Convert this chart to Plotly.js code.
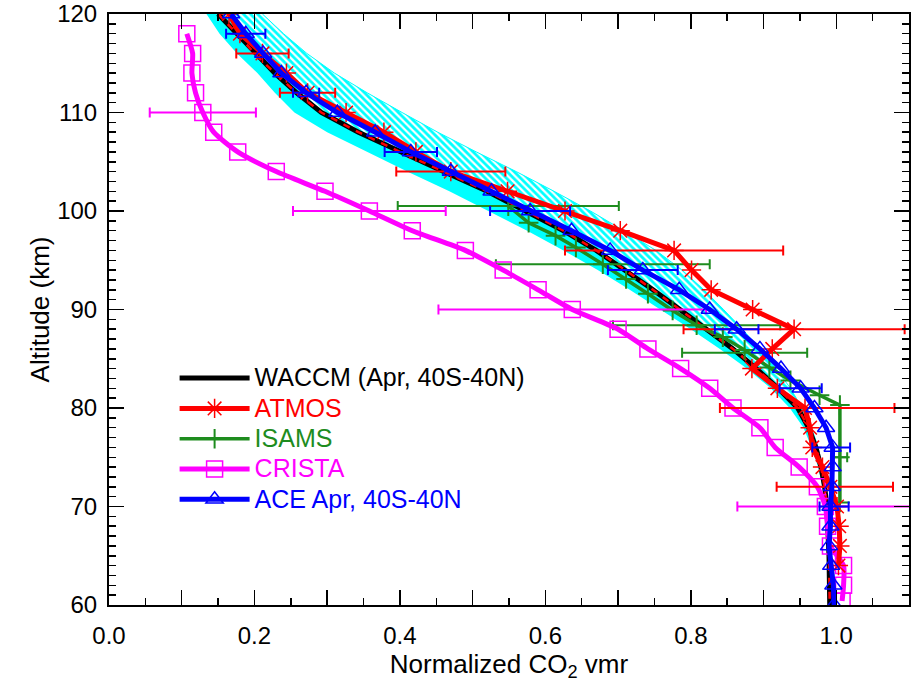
<!DOCTYPE html>
<html><head><meta charset="utf-8">
<script src="https://cdn.plot.ly/plotly-3.0.1.min.js"></script>
<style>body{margin:0;background:#fff}#chart{width:911px;height:682px}</style>
</head><body><div id="chart"></div>
<script>
// ---- WACCM profile and spread band ----
const waccmAlt = [120,118,116,114,112,110,108,106,104,102,100,98,96,94,92,90,88,86,84,82,80,78,76,74,72,70,65,60];
const waccmX   = [0.150,0.176,0.200,0.228,0.258,0.292,0.343,0.400,0.460,0.520,0.574,0.625,0.670,0.710,0.748,0.785,0.822,0.858,0.890,0.920,0.947,0.962,0.972,0.979,0.984,0.987,0.990,0.991];
const bandLeft = [0.134,0.152,0.176,0.204,0.228,0.255,0.300,0.355,0.410,0.468,0.522,0.575,0.625,0.672,0.716,0.758,0.800,0.840,0.877,0.910,0.936,0.955,0.966,0.975,0.981,0.985,0.988,0.989];
const bandRight= [0.211,0.240,0.272,0.310,0.355,0.403,0.452,0.505,0.560,0.612,0.662,0.708,0.752,0.788,0.818,0.845,0.871,0.895,0.917,0.937,0.953,0.966,0.975,0.981,0.986,0.989,0.991,0.992];

// ---- ATMOS ----
const atmosAlt = [120,118,116,114,112,110,108,106,104,102,100,98,96,94,92,90,88,86,84,82,80,78,76,74,72,70,68,66,64];
const atmosX   = [0.165,0.180,0.211,0.244,0.273,0.326,0.378,0.422,0.470,0.548,0.627,0.703,0.777,0.801,0.828,0.885,0.942,0.912,0.884,0.919,0.957,0.964,0.967,0.981,0.992,1.001,1.004,1.005,1.003];
const atmosErrAlt = [116,112,104,96,88,80,72];
const atmosErrX   = [0.211,0.273,0.470,0.777,0.942,0.960,0.998];
const atmosErr    = [0.036,0.038,0.075,0.150,0.152,0.120,0.080];

// ---- ISAMS ----
const isamsAlt = [100.5,98.8,97.5,96.3,94.6,93.1,91.6,89.9,88.4,87.2,85.9,84.1,82.8,81.3,80.3,75.0,70.4];
const isamsX   = [0.549,0.577,0.614,0.642,0.679,0.711,0.741,0.775,0.808,0.844,0.874,0.908,0.937,0.977,1.005,1.005,1.005];
const isamsErrAlt = [100.5,94.6,88.4,85.6,75.0];
const isamsErrX   = [0.549,0.679,0.808,0.874,1.005];
const isamsErr    = [0.152,0.147,0.115,0.086,0.010];

// ---- CRISTA ----
const cristaAlt = [118,116,114,112,110,108,106,104,102,100,98,96,94,92,90,88,86,84,82,80,78,76,74,72,70,68,66,64,62,60.4];
const cristaX   = [0.107,0.115,0.114,0.119,0.129,0.144,0.177,0.230,0.297,0.358,0.417,0.490,0.542,0.590,0.637,0.700,0.741,0.786,0.826,0.858,0.895,0.916,0.949,0.974,0.985,0.988,0.992,1.010,1.010,1.008];
const cristaErrAlt = [110,100,90,70];
const cristaErrX   = [0.129,0.358,0.637,0.985];
const cristaErr    = [0.073,0.105,0.184,0.121];

// ---- ACE ----
const aceAlt = [120,118,116,114,112,110,108,106,104,102,100,98,96,94,92,90,88,86,84,82,80,78,76,74,72,70,68,66,64,62,60];
const aceX   = [0.168,0.188,0.212,0.237,0.271,0.314,0.366,0.415,0.470,0.526,0.579,0.636,0.689,0.734,0.784,0.826,0.863,0.895,0.924,0.951,0.970,0.986,0.995,0.995,0.994,0.992,0.992,0.990,0.993,0.996,0.997];
const aceErrAlt = [118,112,106,100,94,88,82,76,70];
const aceErrX   = [0.188,0.271,0.415,0.579,0.734,0.863,0.951,0.993,0.997];
const aceErr    = [0.027,0.018,0.036,0.055,0.048,0.030,0.029,0.026,0.020];

// ---- Axis ticks ----
const xTickVals = [0,0.1,0.2,0.3,0.4,0.5,0.6,0.7,0.8,0.9,1.0,1.1];
const xTickText = ['0.0','','0.2','','0.4','','0.6','','0.8','','1.0',''];
const yTickVals = [60,70,80,90,100,110,120];

const RED='#ff0000', GREEN='#1e8c1e', MAG='#ff00ff', BLUE='#0000ff';
const rev = a => a.slice().reverse();
const lbl = (t, c) => '<span style="font-size:25px;fill:' + c + '">' + t + '</span>';

function errTrace(alt, x, err, color, thick, w){
  return {x:x, y:alt, type:'scatter', mode:'markers', showlegend:false, hoverinfo:'skip',
    marker:{size:2, color:'rgba(0,0,0,0)'},
    error_x:{type:'data', array:err, visible:true, color:color, thickness:thick, width:w}};
}

const traces = [
  // solid part of band
  {x: bandLeft.concat(rev(waccmX)), y: waccmAlt.concat(rev(waccmAlt)), type:'scatter', mode:'lines',
   fill:'toself', fillcolor:'#00ffff', line:{width:0, color:'#00ffff'}, showlegend:false, hoverinfo:'skip'},
  // hatched part of band
  {x: waccmX.concat(rev(bandRight)), y: waccmAlt.concat(rev(waccmAlt)), type:'scatter', mode:'lines',
   fill:'toself', fillcolor:'rgba(0,0,0,0)', line:{width:1, color:'#00ffff'}, showlegend:false, hoverinfo:'skip',
   fillpattern:{shape:'\\', fgcolor:'#00ffff', bgcolor:'rgba(255,255,255,0)', size:5, solidity:0.55}},
  // WACCM
  {x: waccmX, y: waccmAlt, type:'scatter', mode:'lines', name:lbl('WACCM (Apr, 40S-40N)', '#000000'), legendrank:1,
   line:{color:'#000000', width:5}},
  {x: waccmX, y: waccmAlt, type:'scatter', mode:'lines', showlegend:false, hoverinfo:'skip',
   line:{color:RED, width:2.5, dash:'7px,7px'}},
  // ISAMS
  errTrace(isamsErrAlt, isamsErrX, isamsErr, GREEN, 2, 5),
  {x: isamsX, y: isamsAlt, type:'scatter', mode:'lines+markers', name:lbl('ISAMS', GREEN), legendrank:3,
   line:{color:GREEN, width:3.5}, marker:{symbol:'cross-thin-open', size:14, line:{color:GREEN, width:2}}},
  // CRISTA
  errTrace(cristaErrAlt, cristaErrX, cristaErr, MAG, 2, 5),
  {x: cristaX, y: cristaAlt, type:'scatter', mode:'lines+markers', name:lbl('CRISTA', MAG), legendrank:4,
   line:{color:MAG, width:5, shape:'spline', smoothing:0.6}, marker:{symbol:'square-open', size:16, color:MAG, line:{color:'#ff40ff', width:1.5}}},
  // ATMOS
  errTrace(atmosErrAlt, atmosErrX, atmosErr, RED, 2, 5),
  {x: atmosX, y: atmosAlt, type:'scatter', mode:'lines+markers', name:lbl('ATMOS', RED), legendrank:2,
   line:{color:RED, width:5}, marker:{symbol:'asterisk-open', size:16, line:{color:RED, width:1.5}}},
  // ACE
  errTrace(aceErrAlt, aceErrX, aceErr, BLUE, 2, 5),
  {x: aceX, y: aceAlt, type:'scatter', mode:'lines+markers', name:lbl('ACE Apr, 40S-40N', BLUE), legendrank:5,
   line:{color:BLUE, width:5}, marker:{symbol:'triangle-up-open', size:15, color:BLUE, line:{color:BLUE, width:1.5}}}
];

const FONT = 'Liberation Sans, Arial, Helvetica, sans-serif';
const layout = {
  width:911, height:682,
  margin:{l:109, r:2, t:14, b:77},
  paper_bgcolor:'#ffffff', plot_bgcolor:'#ffffff',
  font:{family:FONT, size:24, color:'#000'},
  showlegend:true,
  legend:{x:0.082, y:0.418, xanchor:'left', yanchor:'top', bgcolor:'rgba(0,0,0,0)', borderwidth:0,
          font:{family:FONT, size:21, color:'#000'}, itemwidth:70, traceorder:'normal'},
  xaxis:{range:[0,1.1], tickmode:'array', tickvals:xTickVals, ticktext:xTickText,
         ticks:'inside', ticklen:15, tickwidth:1.5, tickcolor:'#000',
         minor:{dtick:0.05, ticks:'inside', ticklen:7, tickwidth:1.5, tickcolor:'#000'},
         showline:true, linecolor:'#000', linewidth:2, mirror:'allticks', showgrid:false, zeroline:false,
         tickfont:{size:24}, ticklabelstandoff:8, ticklabeloverflow:'allow',
         title:{text:'Normalized CO<sub>2</sub> vmr', font:{size:26}, standoff:3}},
  yaxis:{range:[60,120], tickmode:'array', tickvals:yTickVals,
         ticks:'inside', ticklen:15, tickwidth:1.5, tickcolor:'#000',
         minor:{dtick:1, ticks:'inside', ticklen:7, tickwidth:1.5, tickcolor:'#000'},
         showline:true, linecolor:'#000', linewidth:2, mirror:'allticks', showgrid:false, zeroline:false,
         tickfont:{size:24}, ticklabelstandoff:5, ticklabeloverflow:'allow',
         title:{text:'Altitude (km)', font:{size:26}, standoff:0}}
};

Plotly.newPlot('chart', traces, layout, {staticPlot:true});
</script>
</body></html>
